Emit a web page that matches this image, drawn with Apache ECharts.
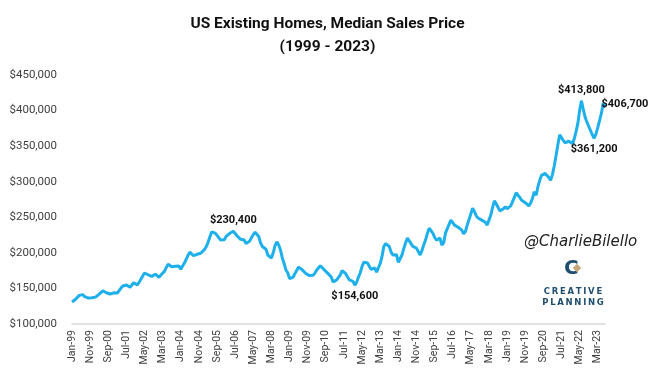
<!DOCTYPE html>
<html>
<head>
<meta charset="utf-8">
<script src="https://cdn.jsdelivr.net/npm/echarts@6/dist/echarts.min.js"></script>
<style>
  html, body { margin: 0; padding: 0; background: #fff; }
  #chart { width: 655px; height: 375px; }
</style>
</head>
<body>
<div id="chart"></div>
<script>
// monthly median sales price, Jan..Dec of each year
var y1999 = [131000, 130500, 134800, 136500, 140200, 142100, 141300, 138400, 137200, 136400, 135600, 136900]
var y2000 = [135800, 137800, 139900, 141900, 144300, 146500, 145200, 143900, 142700, 142200, 144200, 143800]
var y2001 = [141000, 143500, 147000, 150500, 153500, 156000, 154800, 153200, 151500, 153800, 158000, 156800]
var y2002 = [155000, 158500, 163000, 167500, 171700, 170600, 169200, 168100, 167000, 168500, 170000, 168200]
var y2003 = [165500, 168800, 171500, 174000, 179500, 184000, 183000, 180500, 178700, 181200, 184000, 181500]
var y2004 = [177000, 181500, 185700, 191000, 196500, 201000, 198500, 196000, 198700, 198000, 197000, 199500]
var y2005 = [202000, 204500, 208500, 214500, 222000, 229500, 229000, 227700, 224500, 222000, 218000, 216000]
var y2006 = [218500, 223000, 225000, 227500, 229000, 230400, 228000, 224000, 221500, 219000, 220000, 218000]
var y2007 = [213000, 211000, 216500, 221500, 225500, 229000, 227000, 223000, 214000, 209000, 206500, 205000]
var y2008 = [197000, 194500, 192600, 200000, 210000, 215500, 211000, 204000, 193000, 185000, 176000, 172000]
var y2009 = [163700, 164500, 166000, 171000, 175500, 180000, 178500, 176000, 174500, 171000, 169000, 168000]
var y2010 = [167000, 168500, 171500, 176000, 179000, 182000, 180000, 176500, 174000, 171500, 169000, 166000]
var y2011 = [159000, 158000, 162000, 164700, 169000, 175000, 173500, 170700, 166000, 162000, 163700, 160000]
var y2012 = [154600, 158500, 166000, 172000, 181000, 187000, 186500, 185700, 181000, 177000, 178000, 178700]
var y2013 = [173000, 172500, 185000, 195000, 209000, 213000, 211000, 209000, 201000, 197000, 196000, 197500]
var y2014 = [186500, 189000, 197000, 206000, 214000, 220700, 217000, 213000, 209000, 208000, 206700, 207500]
var y2015 = [197000, 203000, 211000, 218000, 227000, 234700, 232000, 227700, 222000, 218000, 219500, 220700]
var y2016 = [211000, 214000, 227700, 234000, 240000, 246000, 244000, 239000, 237000, 236000, 234700, 232000]
var y2017 = [226700, 230000, 239000, 247000, 255000, 262700, 258000, 252000, 249000, 247000, 246000, 247700]
var y2018 = [243000, 239000, 246000, 253000, 264000, 273000, 269000, 264000, 259000, 258000, 262000, 265000]
var y2019 = [262000, 260000, 266000, 272000, 278000, 284500, 281000, 278000, 274000, 272000, 270500, 273000]
var y2020 = [266000, 270000, 276700, 286000, 281000, 293000, 302000, 309000, 310000, 311700, 310000, 306000]
var y2021 = [302000, 310000, 322000, 337000, 352000, 366000, 362000, 358000, 354500, 355000, 357000, 356000]
var y2022 = [353600, 360000, 370000, 381700, 400000, 413800, 402000, 391000, 384000, 378000, 372000, 366000]
var y2023 = [361200, 367000, 376000, 386000, 396000, 410200, 406700]

var prices = [].concat(y1999, y2000, y2001, y2002, y2003, y2004, y2005, y2006, y2007, y2008,
  y2009, y2010, y2011, y2012, y2013, y2014, y2015, y2016, y2017, y2018, y2019, y2020,
  y2021, y2022, y2023)

var monthNames = ['Jan', 'Feb', 'Mar', 'Apr', 'May', 'Jun', 'Jul', 'Aug', 'Sep', 'Oct', 'Nov', 'Dec']
var months = []
for (var i = 0; i < prices.length; i++) {
  var yr = 1999 + Math.floor(i / 12)
  months.push(monthNames[i % 12] + '-' + String(yr).slice(2))
}

var yTicks = [100000, 150000, 200000, 250000, 300000, 350000, 400000, 450000]

// labelled points: month -> where the callout sits
var callouts = {
  'Jun-06': { position: 'top', offset: [5, -1] },
  'Jan-12': { position: 'bottom', offset: [-1, 0] },
  'Jun-22': { position: 'top', offset: [-8, 0] },
  'Jan-23': { position: 'bottom', offset: [12, -3] },
  'Jul-23': { position: [-3, -7], offset: [0, 0] },
}

function money (v) {
  return '$' + v.toString().replace(/\B(?=(\d{3})+(?!\d))/g, ',')
}

var seriesData = prices.map(function (v, i) {
  var c = callouts[months[i]]
  if (!c) return v
  return {
    value: v,
    symbol: 'circle',
    symbolSize: 1,
    label: {
      show: true,
      position: c.position,
      offset: c.offset,
      formatter: money(v),
      color: '#111',
      fontWeight: 'bold',
      fontSize: 11,
      fontFamily: 'Roboto',
    },
  }
})

var chart = echarts.init(document.getElementById('chart'), null, { renderer: 'canvas' })
chart.setOption({
  animation: false,
  backgroundColor: '#fff',
  title: {
    text: 'US Existing Homes, Median Sales Price\n(1999 - 2023)',
    left: 'center',
    top: 8,
    textStyle: {
      color: '#111',
      fontSize: 15.5,
      fontWeight: 'bold',
      fontFamily: 'Roboto',
      lineHeight: 23,
    },
  },
  grid: {
    left: 72,
    right: 50,
    top: 75,
    bottom: 51,
  },
  xAxis: {
    type: 'category',
    boundaryGap: false,
    data: months,
    axisTick: { show: false },
    axisLine: { show: true, lineStyle: { color: '#d9d9d9', width: 1.5 } },
    axisLabel: {
      interval: 9,
      rotate: 90,
      margin: 6,
      color: '#404040',
      fontSize: 10.5,
      fontFamily: 'Roboto',
    },
    splitLine: { show: false },
  },
  yAxis: {
    type: 'value',
    min: yTicks[0],
    max: yTicks[yTicks.length - 1],
    interval: 50000,
    axisLine: { show: false },
    axisTick: { show: false },
    splitLine: { show: false },
    axisLabel: {
      margin: 15,
      color: '#404040',
      fontSize: 11.5,
      fontFamily: 'Roboto',
      formatter: money,
    },
  },
  series: [{
    type: 'line',
    data: seriesData,
    symbol: 'none',
    showSymbol: true,
    showAllSymbol: true,
    lineStyle: { color: '#1eb0ea', width: 3 },
    itemStyle: { color: '#1eb0ea' },
    labelLayout: { hideOverlap: false },
    z: 3,
  }],
  graphic: [
    {
      type: 'text',
      left: 524,
      top: 235,
      style: {
        text: '@CharlieBilello',
        fontSize: 15,
        fontStyle: 'italic',
        fontFamily: 'DejaVu Sans',
        fill: '#222',
      },
    },
    {
      type: 'text',
      left: 564,
      top: 259,
      style: {
        text: 'C',
        fontSize: 20,
        fontWeight: 'bold',
        fontFamily: 'DejaVu Sans',
        fill: '#1f4e6e',
      },
    },
    {
      type: 'rect',
      x: 577,
      y: 268,
      rotation: Math.PI / 4,
      shape: { x: -3, y: -3, width: 6, height: 6 },
      style: { fill: '#c8a77a' },
    },
    {
      type: 'text',
      x: 573,
      y: 286,
      style: {
        text: 'C\u2009R\u2009E\u2009A\u2009T\u2009I\u2009V\u2009E\nP\u2009L\u2009A\u2009N\u2009N\u2009I\u2009N\u2009G',
        fontSize: 8.5,
        fontWeight: 'bold',
        fontFamily: 'DejaVu Sans',
        fill: '#1f4e6e',
        lineHeight: 11,
        align: 'center',
      },
    },
  ],
})
</script>
</body>
</html>
